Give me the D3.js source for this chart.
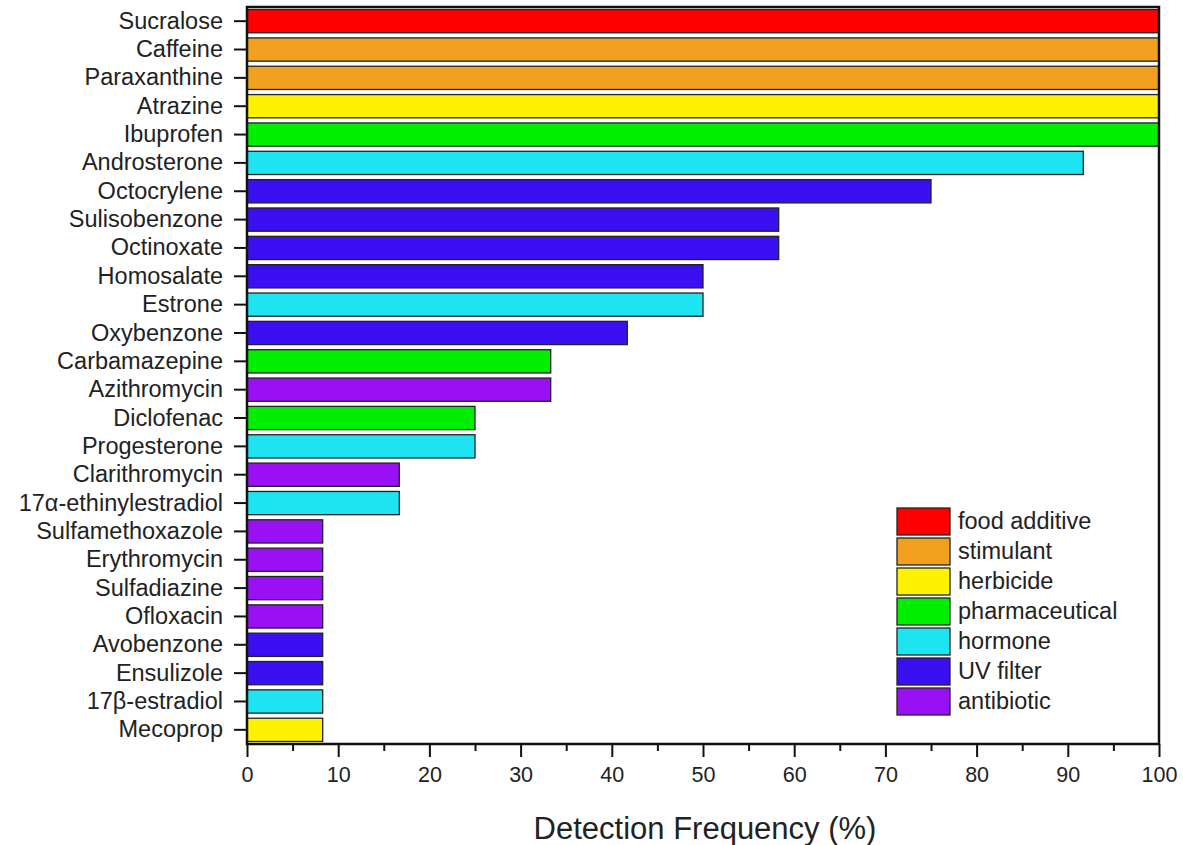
<!DOCTYPE html>
<html>
<head>
<meta charset="utf-8">
<script src="https://cdn.jsdelivr.net/npm/d3@7"></script>
<style>
  body { margin: 0; background: #fff; }
  text { font-family: "Liberation Sans", Arial, sans-serif; fill: #222; }
</style>
</head>
<body>
<script>
// compounds, top to bottom
var compounds = ['Sucralose', 'Caffeine', 'Paraxanthine', 'Atrazine', 'Ibuprofen', 'Androsterone',
  'Octocrylene', 'Sulisobenzone', 'Octinoxate', 'Homosalate', 'Estrone', 'Oxybenzone',
  'Carbamazepine', 'Azithromycin', 'Diclofenac', 'Progesterone', 'Clarithromycin',
  '17\u03b1-ethinylestradiol', 'Sulfamethoxazole', 'Erythromycin', 'Sulfadiazine', 'Ofloxacin',
  'Avobenzone', 'Ensulizole', '17\u03b2-estradiol', 'Mecoprop'];
var frequency = [100, 100, 100, 100, 100, 91.7, 75, 58.3, 58.3, 50, 50, 41.7, 33.3, 33.3,
  25, 25, 16.7, 16.7, 8.3, 8.3, 8.3, 8.3, 8.3, 8.3, 8.3, 8.3];
var classOf = ['food additive', 'stimulant', 'stimulant', 'herbicide', 'pharmaceutical', 'hormone',
  'UV filter', 'UV filter', 'UV filter', 'UV filter', 'hormone', 'UV filter',
  'pharmaceutical', 'antibiotic', 'pharmaceutical', 'hormone', 'antibiotic',
  'hormone', 'antibiotic', 'antibiotic', 'antibiotic', 'antibiotic',
  'UV filter', 'UV filter', 'hormone', 'herbicide'];
var classes = ['food additive', 'stimulant', 'herbicide', 'pharmaceutical', 'hormone', 'UV filter', 'antibiotic'];
var classColors = ['#ff0000', '#f2a01f', '#fff200', '#00ee00', '#1ee4f2', '#3a10f2', '#9a10f5'];
var xTicks = [0, 10, 20, 30, 40, 50, 60, 70, 80, 90, 100];

(function(){

	var w = 1183;
	var h = 845;
	var left = 247, right = 1159, top = 7, bottom = 744;

	var svg = d3.select('body')
		.append('svg')
		.attr('width', w)
		.attr('height', h);

	var x = d3.scaleLinear().domain([0, 100]).range([left, right]);
	var y = d3.scaleBand().domain(compounds).range([top, bottom]).paddingInner(0.18).paddingOuter(0.09);
	var color = d3.scaleOrdinal().domain(classes).range(classColors);

	svg.selectAll('rect.bar')
		.data(compounds)
		.enter()
		.append('rect')
		.attr('class', 'bar')
		.attr('x', x(0))
		.attr('y', function(d){ return y(d); })
		.attr('width', function(d, i){ return x(frequency[i]) - x(0); })
		.attr('height', y.bandwidth())
		.attr('fill', function(d, i){ return color(classOf[i]); })
		.attr('stroke', '#222')
		.attr('stroke-width', 1.3);

	// frame
	svg.append('rect')
		.attr('x', left).attr('y', top)
		.attr('width', right - left).attr('height', bottom - top)
		.attr('fill', 'none').attr('stroke', '#111').attr('stroke-width', 2.5);

	// y axis
	var yAxis = svg.append('g')
		.attr('transform', 'translate(' + left + ',0)')
		.call(d3.axisLeft(y).tickSize(13).tickPadding(11));
	yAxis.select('.domain').remove();
	yAxis.selectAll('line').attr('stroke', '#111').attr('stroke-width', 2);
	yAxis.selectAll('text').style('font-size', '23.5px').attr('fill', '#222');

	// x axis, major + minor ticks
	var minor = svg.append('g')
		.attr('transform', 'translate(0,' + bottom + ')')
		.call(d3.axisBottom(x).tickValues(d3.range(5, 100, 10)).tickSize(7).tickFormat(''));
	minor.select('.domain').remove();
	minor.selectAll('line').attr('stroke', '#111').attr('stroke-width', 2);

	var xAxis = svg.append('g')
		.attr('transform', 'translate(0,' + bottom + ')')
		.call(d3.axisBottom(x).tickValues(xTicks).tickSize(13).tickPadding(10));
	xAxis.select('.domain').remove();
	xAxis.selectAll('line').attr('stroke', '#111').attr('stroke-width', 2);
	xAxis.selectAll('text').style('font-size', '21.5px').attr('fill', '#222');

	svg.append('text')
		.attr('x', (left + right) / 2 + 2)
		.attr('y', 839)
		.attr('text-anchor', 'middle')
		.style('font-size', '31px')
		.text('Detection Frequency (%)');

	// legend
	var legend = svg.append('g').attr('transform', 'translate(897,508)');
	var rows = legend.selectAll('g')
		.data(classes)
		.enter()
		.append('g')
		.attr('transform', function(d, i){ return 'translate(0,' + (i * 30) + ')'; });
	rows.append('rect')
		.attr('width', 53).attr('height', 27)
		.attr('fill', function(d){ return color(d); })
		.attr('stroke', '#222').attr('stroke-width', 1.3);
	rows.append('text')
		.attr('x', 61).attr('y', 13).attr('dy', '0.35em')
		.style('font-size', '23.5px')
		.text(function(d){ return d; });

})();
</script>
</body>
</html>
